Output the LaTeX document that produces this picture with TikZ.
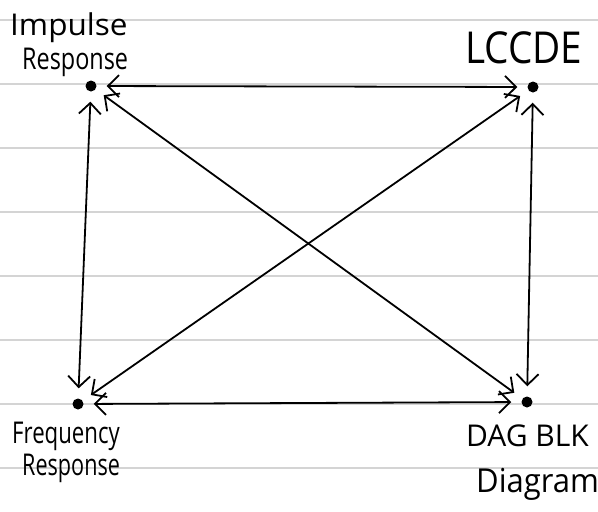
\documentclass[tikz,border=0pt]{standalone}
\usepackage{fontspec}
\usepackage{graphicx}
\setmainfont{Open Sans}
\usetikzlibrary{arrows.meta}
\definecolor{ruled}{RGB}{212,212,212}
\begin{document}
\begin{tikzpicture}[x=1pt,y=-1pt,
  ruling/.style={draw=ruled,line width=1.8pt},
  dotnode/.style={circle,fill=black,inner sep=0pt,minimum size=11pt},
  link/.style={line width=1.8pt,{Straight Barb[length=11pt,width=22pt,line width=1.8pt]}-{Straight Barb[length=11pt,width=22pt,line width=1.8pt]}, shorten <=10pt, shorten >=10pt},
  hand/.style={font=\fontsize{30}{34}\selectfont, inner sep=0pt, anchor=west}]
\useasboundingbox (0,0) rectangle (598,512);
\fill[white] (0,0) rectangle (598,512);
\foreach \y in {20,84,148,212,276,340,404,468}
  \draw[ruling] (0,\y) -- (598,\y);
% dots
\node[dotnode] (ir) at (91,86) {};
\node[dotnode] (lc) at (533,87) {};
\node[dotnode] (fr) at (78,404) {};
\node[dotnode] (dg) at (527,402) {};
% labels
\node[hand] (t1) at (10,28) {\scalebox{1.05}[1]{Impulse}};
\node[hand] (t2) at (22,62) {\scalebox{0.78}[1]{Response}};
\node[hand,font=\fontsize{44}{48}\selectfont] (t3) at (465,48) {\scalebox{0.88}[1]{LCCDE}};
\node[hand] (t4) at (12,436) {\scalebox{0.74}[1]{Frequency}};
\node[hand] (t5) at (22,468) {\scalebox{0.72}[1]{Response}};
\node[hand] (t6) at (466,436) {DAG BLK};
\node[hand,font=\fontsize{33}{36}\selectfont] (t7) at (476,484) {\scalebox{0.94}[1]{Diagram}};
% connectors
\draw[link] (ir) -- (lc);
\draw[link] (fr) -- (dg);
\draw[link] (ir) -- (fr);
\draw[link] (lc) -- (dg);
\draw[link] (ir) -- (dg);
\draw[link] (lc) -- (fr);
\end{tikzpicture}
\end{document}
